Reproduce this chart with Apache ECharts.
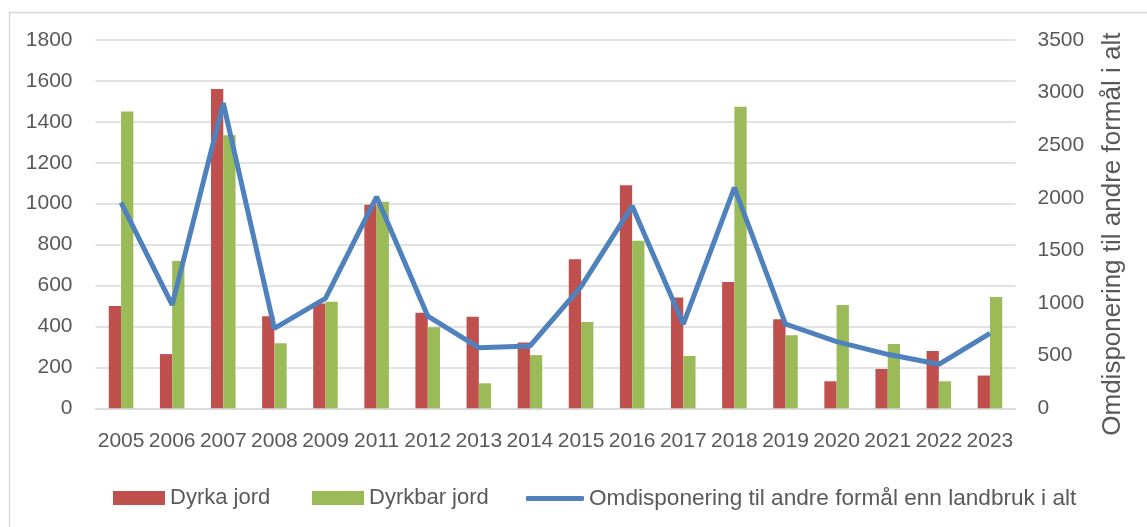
<!DOCTYPE html>
<html>
<head>
<meta charset="utf-8">
<script src="https://cdn.jsdelivr.net/npm/echarts@6/dist/echarts.min.js"></script>
<style>
html,body{margin:0;padding:0;background:#fff;}
#chart{width:1147px;height:527px;}
</style>
</head>
<body>
<div id="chart"></div>
<script>
const years = ['2005','2006','2007','2008','2009','2011','2012','2013','2014','2015','2016','2017','2018','2019','2020','2021','2022','2023'];
const dyrkaJord = [500, 265, 1560, 450, 512, 995, 467, 448, 322, 728, 1090, 542, 617, 435, 132, 192, 280, 160];
const dyrkbarJord = [1450, 720, 1335, 318, 521, 1010, 396, 122, 260, 422, 819, 256, 1474, 357, 505, 314, 132, 544];
const omdisponering = [1955, 982, 2900, 760, 1045, 2010, 877, 576, 592, 1156, 1922, 801, 2096, 801, 633, 513, 418, 713];
const leftTicks = {min: 0, max: 1800, interval: 200};
const rightTicks = {min: 0, max: 3500, interval: 500};

const FONT = "'Liberation Sans', Arial, sans-serif";
const TXT = '#595959';
const GRID = '#D9D9D9';
const plain = v => String(v);

const chart = echarts.init(document.getElementById('chart'), null, {renderer: 'canvas'});
chart.setOption({
  animation: false,
  backgroundColor: '#fff',
  textStyle: {fontFamily: FONT},
  graphic: [{
    type: 'rect', left: 7, top: 10, silent: true,
    shape: {width: 1200, height: 600},
    style: {fill: 'none', stroke: GRID, lineWidth: 1.5}
  }],
  grid: {left: 95.5, right: 131.5, top: 40, bottom: 118.7, containLabel: false},
  legend: [
    {data: [{name: 'Dyrka jord', icon: 'rect'}], left: 108, top: 482, itemWidth: 52, itemHeight: 14, itemGap: 0,
     textStyle: {fontSize: 22, color: TXT, fontFamily: FONT}},
    {data: [{name: 'Dyrkbar jord', icon: 'rect'}], left: 307, top: 482, itemWidth: 52, itemHeight: 14, itemGap: 0,
     textStyle: {fontSize: 22, color: TXT, fontFamily: FONT}},
    {data: [{name: 'Omdisponering til andre formål enn landbruk i alt', icon: 'roundRect'}], left: 521, top: 482,
     itemWidth: 58, itemHeight: 5, itemGap: 0,
     itemStyle: {color: '#4F81BD'},
     textStyle: {fontSize: 22.6, color: TXT, fontFamily: FONT}}
  ],
  xAxis: {
    type: 'category', data: years,
    axisLine: {show: true, lineStyle: {color: GRID, width: 1.5}},
    axisTick: {show: false},
    axisLabel: {interval: 0, margin: 22, fontSize: 21, color: TXT, fontFamily: FONT}
  },
  yAxis: [
    {type: 'value', min: leftTicks.min, max: leftTicks.max, interval: leftTicks.interval,
     axisLine: {show: false}, axisTick: {show: false},
     splitLine: {lineStyle: {color: GRID, width: 1.5}},
     axisLabel: {margin: 23, fontSize: 21, color: TXT, fontFamily: FONT, formatter: plain}},
    {type: 'value', min: rightTicks.min, max: rightTicks.max, interval: rightTicks.interval,
     position: 'right',
     axisLine: {show: false}, axisTick: {show: false}, splitLine: {show: false},
     axisLabel: {margin: 22, fontSize: 21, color: TXT, fontFamily: FONT, formatter: plain},
     name: 'Omdisponering til andre formål i alt', nameLocation: 'middle', nameRotate: 90,
     nameGap: 84,
     nameTextStyle: {fontSize: 26, color: TXT, fontFamily: FONT, padding: [0, 20, 0, 0]}}
  ],
  series: [
    {name: 'Dyrka jord', type: 'bar', data: dyrkaJord, yAxisIndex: 0,
     barGap: '0%', barCategoryGap: '52%', itemStyle: {color: '#C0504D'}},
    {name: 'Dyrkbar jord', type: 'bar', data: dyrkbarJord, yAxisIndex: 0,
     itemStyle: {color: '#9BBB59'}},
    {name: 'Omdisponering til andre formål enn landbruk i alt', type: 'line', data: omdisponering, yAxisIndex: 1,
     symbol: 'none', lineStyle: {color: '#4F81BD', width: 5}, itemStyle: {color: '#4F81BD'}}
  ]
});
</script>
</body>
</html>
